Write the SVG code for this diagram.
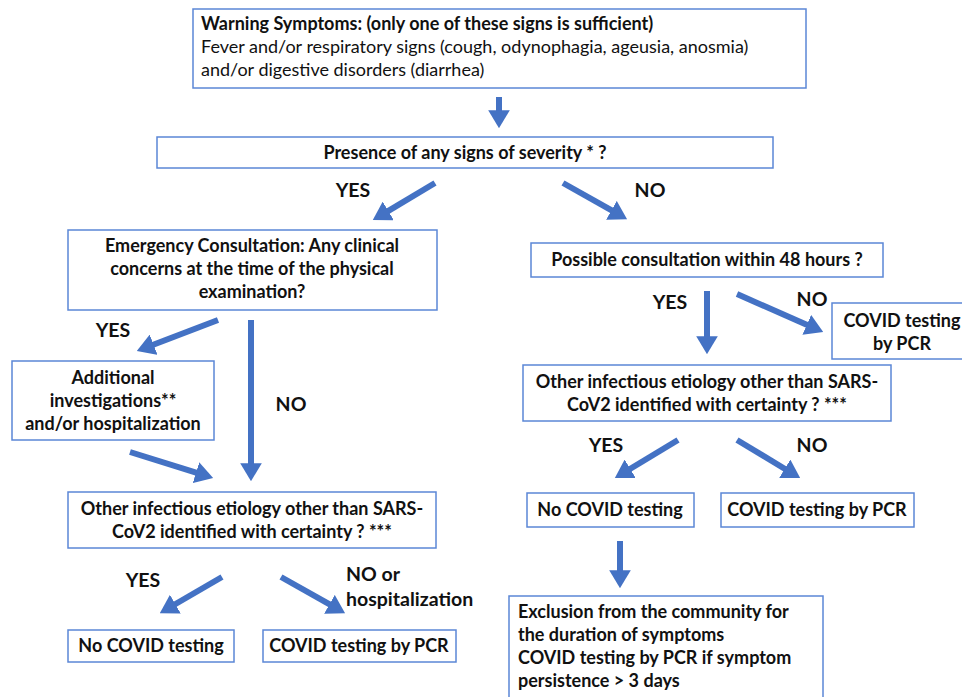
<svg xmlns="http://www.w3.org/2000/svg" width="962" height="697" viewBox="0 0 962 697">
<defs>
<marker id="ah" viewBox="0 0 10 10" refX="1" refY="5" markerWidth="3" markerHeight="3.6" preserveAspectRatio="none" orient="auto" markerUnits="strokeWidth">
<path d="M0,0 L10,5 L0,10 z" fill="#4472C4"/>
</marker>
</defs>
<style>
.box{fill:#fff;stroke:#5b87d6;stroke-width:1.5}
text{font-family:Lato,"Open Sans","Liberation Sans",sans-serif;font-size:18px;fill:#111}
.b{font-weight:bold}
.c{text-anchor:middle}
.lbl{font-weight:bold;font-size:19.5px}
.conn line{stroke:#4472C4;stroke-width:6;marker-end:url(#ah)}
</style>
<rect width="962" height="697" fill="#fff"/>
<g id="n1"><rect class="box" x="193" y="9" width="613" height="79"/>
<text x="201" y="30" class="b">Warning Symptoms: (only one of these signs is sufficient)</text>
<text x="201" y="53">Fever and/or respiratory signs (cough, odynophagia, ageusia, anosmia)</text>
<text x="201" y="76">and/or digestive disorders (diarrhea)</text></g>
<g id="n2"><rect class="box" x="157" y="137" width="616" height="31"/>
<text x="465" y="159" class="b c">Presence of any signs of severity * ?</text></g>
<g id="n3"><rect class="box" x="68" y="230" width="369" height="80"/>
<text x="252" y="252" class="b c">Emergency Consultation: Any clinical</text>
<text x="252" y="275" class="b c">concerns at the time of the physical</text>
<text x="252" y="298" class="b c">examination?</text></g>
<g id="n4"><rect class="box" x="531" y="243" width="352" height="34"/>
<text x="707" y="266" class="b c">Possible consultation within 48 hours ?</text></g>
<g id="n5"><rect class="box" x="832" y="303" width="135" height="56"/>
<text x="902" y="327" class="b c">COVID testing</text>
<text x="902" y="350" class="b c">by PCR</text></g>
<g id="n6"><rect class="box" x="523" y="365" width="368" height="56"/>
<text x="707" y="388" class="b c">Other infectious etiology other than SARS-</text>
<text x="707" y="411" class="b c">CoV2 identified with certainty ? ***</text></g>
<g id="n7"><rect class="box" x="527" y="493" width="167" height="34"/>
<text x="610" y="516" class="b c">No COVID testing</text></g>
<g id="n8"><rect class="box" x="721" y="493" width="193" height="34"/>
<text x="817" y="516" class="b c">COVID testing by PCR</text></g>
<g id="n9"><rect class="box" x="509" y="596" width="314" height="106"/>
<text x="518" y="618" class="b">Exclusion from the community for</text>
<text x="518" y="641" class="b">the duration of symptoms</text>
<text x="518" y="664" class="b">COVID testing by PCR if symptom</text>
<text x="518" y="687" class="b">persistence &gt; 3 days</text></g>
<g id="n10"><rect class="box" x="12" y="361" width="202" height="79"/>
<text x="113" y="384" class="b c">Additional</text>
<text x="113" y="407" class="b c">investigations**</text>
<text x="113" y="430" class="b c">and/or hospitalization</text></g>
<g id="n11"><rect class="box" x="68" y="492" width="368" height="56"/>
<text x="252" y="515" class="b c">Other infectious etiology other than SARS-</text>
<text x="252" y="538" class="b c">CoV2 identified with certainty ? ***</text></g>
<g id="n12"><rect class="box" x="68" y="630" width="166" height="32"/>
<text x="151" y="652" class="b c">No COVID testing</text></g>
<g id="n13"><rect class="box" x="263" y="630" width="193" height="32"/>
<text x="359" y="652" class="b c">COVID testing by PCR</text></g>
<g id="labels">
<text x="353" y="197" class="lbl c">YES</text>
<text x="650" y="197" class="lbl c">NO</text>
<text x="670" y="309" class="lbl c">YES</text>
<text x="812" y="306" class="lbl c">NO</text>
<text x="606" y="452" class="lbl c">YES</text>
<text x="812" y="452" class="lbl c">NO</text>
<text x="113" y="337" class="lbl c">YES</text>
<text x="291" y="411" class="lbl c">NO</text>
<text x="143" y="587" class="lbl c">YES</text>
<text x="346" y="581" class="lbl">NO or</text>
<text x="346" y="606" class="lbl">hospitalization</text>
</g>
<g id="connectors" class="conn">
<line x1="499" y1="97" x2="499" y2="112"/>
<line x1="435" y1="183" x2="386.7" y2="211.8"/>
<line x1="563" y1="183" x2="613" y2="211.2"/>
<line x1="707" y1="291" x2="707" y2="338"/>
<line x1="737" y1="294" x2="808.4" y2="325.5"/>
<line x1="678" y1="440" x2="628.7" y2="469.7"/>
<line x1="737" y1="440" x2="786.3" y2="469.7"/>
<line x1="620" y1="541" x2="620" y2="572"/>
<line x1="218" y1="320" x2="151.9" y2="345.3"/>
<line x1="251" y1="320" x2="251" y2="465"/>
<line x1="130" y1="452" x2="197.7" y2="473.2"/>
<line x1="222" y1="577" x2="173.8" y2="605"/>
<line x1="281" y1="577" x2="331" y2="605.2"/>
</g>
</svg>
